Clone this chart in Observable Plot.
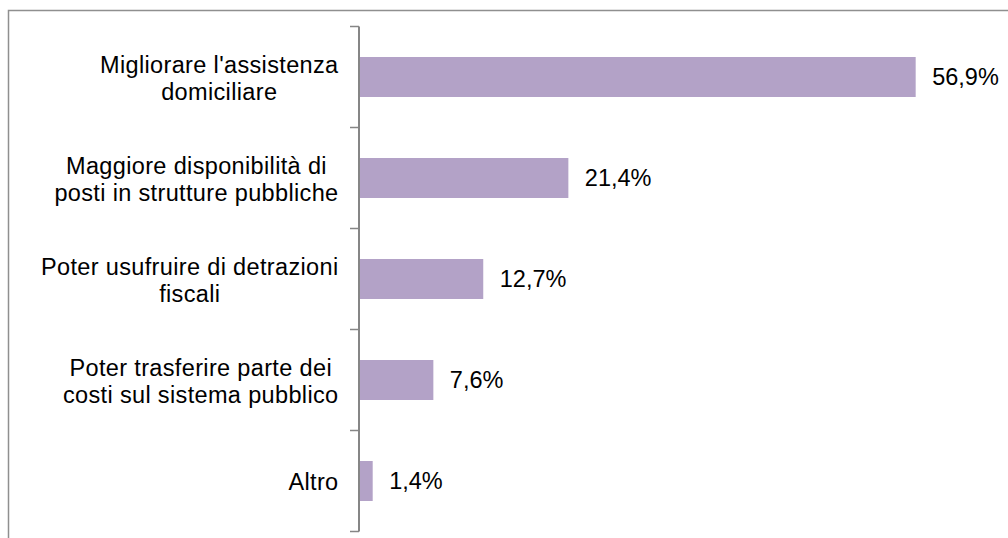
<!DOCTYPE html>
<html><head><meta charset="utf-8">
<script src="https://cdn.jsdelivr.net/npm/d3@7"></script>
<script src="https://cdn.jsdelivr.net/npm/@observablehq/plot@0.6"></script>
<style>body{margin:0;background:#fff;} #chart svg{display:block;} g[aria-label="y-axis tick label"] text{letter-spacing:0.35px;}</style>
</head><body><div id="chart"></div>
<script>
const categories = [
  "Migliorare l'assistenza\ndomiciliare",
  "Maggiore disponibilità di\nposti in strutture pubbliche",
  "Poter usufruire di detrazioni\nfiscali",
  "Poter trasferire parte dei\ncosti sul sistema pubblico",
  "Altro"
];
const values = [56.9, 21.4, 12.7, 7.6, 1.4];
const data = categories.map((c, i) => ({category: c, value: values[i]}));
const fmt = v => d3.format(".1f")(v).replace(".", ",") + "%";
const FONT = "'Liberation Sans', Arial, sans-serif";

function decorations(index, scales, vals, dimensions) {
  const {y, x} = scales;
  const {width, height} = dimensions;
  const g = d3.create("svg:g");
  g.append("path")
    .attr("d", `M8.5,${height}V10.5H${width}`)
    .attr("fill", "none").attr("stroke", "#8f8f8f").attr("stroke-width", 1.5);
  const step = y.step(), bw = y.bandwidth();
  const bounds = categories.map(c => y(c) - (step - bw) / 2);
  bounds.push(bounds[bounds.length - 1] + step);
  const x0 = x(0);
  g.append("path")
    .attr("d", `M${x0},${bounds[0]}V${bounds[bounds.length - 1]}`)
    .attr("stroke", "#868686").attr("stroke-width", 2).attr("fill", "none");
  g.append("path")
    .attr("d", bounds.map(b => `M${x0 - 9},${b}H${x0}`).join(""))
    .attr("stroke", "#868686").attr("stroke-width", 1.5).attr("fill", "none");
  return g.node();
}

const plot = Plot.plot({
  width: 1008,
  height: 538,
  marginLeft: 359,
  marginRight: 62,
  marginTop: 26,
  marginBottom: 6,
  style: {fontFamily: FONT, background: "#fff", color: "#000"},
  x: {domain: [0, 60], axis: null},
  y: {domain: categories, paddingInner: 0.6, paddingOuter: 0.3, axis: null},
  marks: [
    Plot.barX(data, {x: "value", y: "category", fill: "#B3A2C7"}),
    decorations,
    Plot.axisY({label: null, tickSize: 0, tickPadding: 21, fontSize: 23.5, lineHeight: 1.15, fill: "#000", textAnchor: "end"}),
    Plot.text(data, {x: "value", y: "category", text: d => fmt(d.value), textAnchor: "start", dx: 16, fontSize: 23.5, fill: "#000"})
  ]
});
document.getElementById("chart").appendChild(plot);

// center the lines of each multi-line label within a right-aligned block
plot.querySelectorAll('g[aria-label="y-axis tick label"] text').forEach(t => {
  const spans = t.querySelectorAll("tspan");
  if (spans.length < 2) return;
  let maxW = 0;
  spans.forEach(s => { maxW = Math.max(maxW, s.getComputedTextLength()); });
  t.setAttribute("text-anchor", "middle");
  spans.forEach(s => s.setAttribute("x", -maxW / 2));
});
</script>
</body></html>
